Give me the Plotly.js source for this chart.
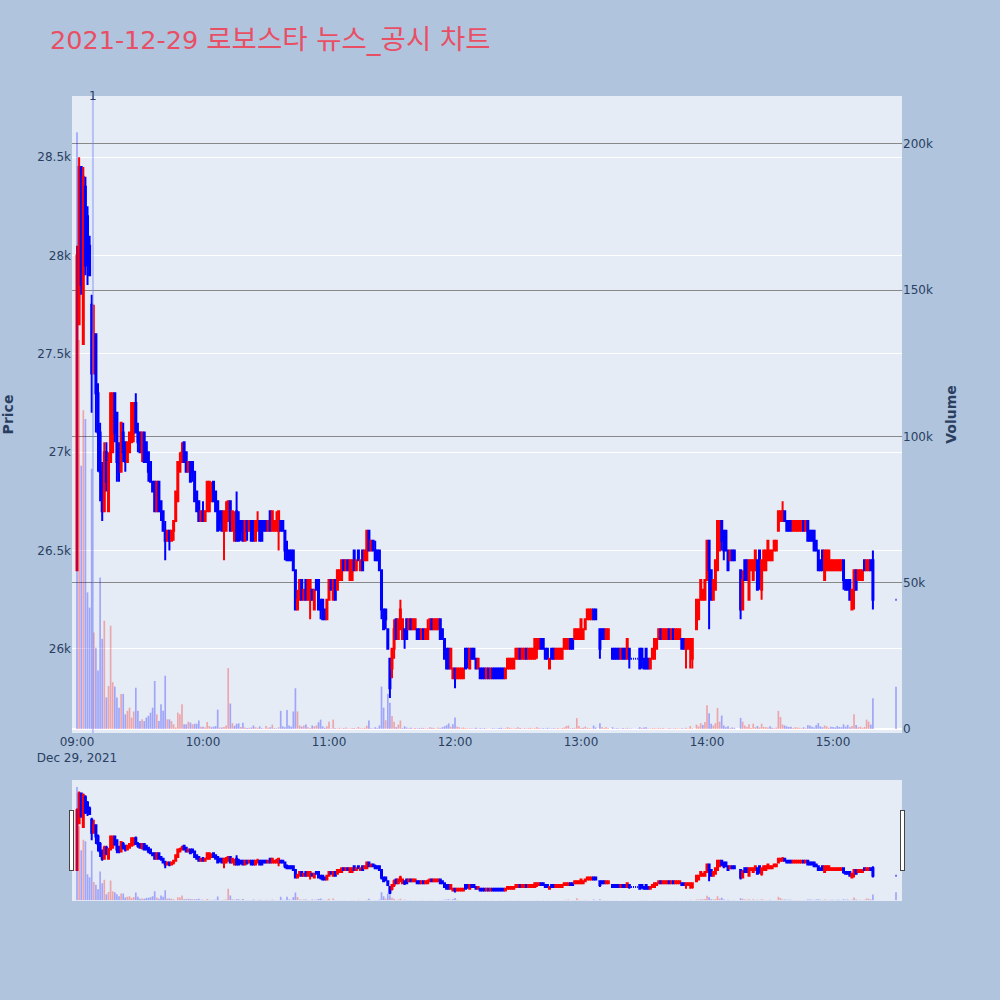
<!DOCTYPE html>
<html>
<head>
<meta charset="utf-8">
<script src="https://cdn.plot.ly/plotly-3.0.1.min.js"></script>
<style>html,body{margin:0;padding:0;background:#B0C4DE;}</style>
</head>
<body>
<div id="chart" style="width:1000px;height:1000px;"></div>
<script>
// ---- data (one entry per minute from 09:00; null = no trade) ----
const tradeDate = '2021-12-29';
const titleDate = '2021-12-29';
const titleName = '로보스타 뉴스_공시 차트';
const newsTime = '2021-12-29 09:07:36';
const newsLabel = '1';

const openP = [
26400,27650,28450,27550,28350,28200,28050,27750,27400,27600,
27300,27100,26900,26700,27000,26700,26950,27000,27300,27200,
27000,26900,27100,27050,26950,27000,27050,27100,27250,27100,
27100,27000,27100,27050,27000,26950,26850,26850,26700,26850,
26750,26700,26600,26550,26600,26550,26600,26650,26750,26900,
26950,27050,27000,26900,26950,26950,26900,26800,26750,26650,
26700,26650,26700,26700,26750,26850,26800,26750,26700,26700,
26600,26600,26650,26750,26600,26550,26700,26650,26650,26650,
26550,26650,26600,26650,26650,26550,26600,26650,26650,26650,
26650,26600,26700,26600,26600,26600,26600,26650,26650,26600,
26500,26500,26500,26500,26400,26200,26250,26350,26250,26350,
26250,26250,26300,26200,26350,26350,26250,26250,26200,26150,
26250,26350,26250,26350,26300,26350,26350,26450,26400,26450,
26350,26350,26500,26400,26500,26400,26500,26450,26450,26600,
26500,26550,26500,26500,26500,26400,26200,26200,26100,25950,
25900,26000,26150,26050,26100,26050,26100,26150,26100,26150,
26100,26100,26100,26100,26050,26100,26050,26050,26100,26150,
26100,26100,26100,26150,26100,26050,26000,26000,25900,25850,
25900,25850,25850,25850,25850,26000,26000,25900,26000,26000,
25950,25900,25900,25900,25900,25850,25900,25850,25900,25900,
25900,25900,25900,25900,25850,25900,25900,25900,25900,25950,
25950,26000,25950,25950,26000,25950,25950,25950,25950,26000,
26000,26050,26050,26000,26000,25900,26000,26000,25950,25950,
25950,25950,26000,26000,26000,26050,26050,26050,26050,26050,
26050,26050,26100,26150,26150,26150,26200,26200,null,26100,
26100,26100,26050,26050,null,26000,26000,26000,26000,25950,
26000,26000,25950,26000,25950,25950,25950,25950,26000,26000,
25950,26000,25950,25900,25950,25950,26000,26050,26100,26050,
26050,26050,26100,26050,26100,26050,26050,26050,26050,26050,
26000,26000,26000,25950,null,26100,26150,26250,26250,26250,
26350,26550,26400,26250,26300,26400,26500,26650,26600,26600,
26500,26450,26500,26500,null,null,26400,26200,26450,26450,
26250,26400,26350,26400,26450,26500,26300,26400,26400,26450,
26450,26450,26500,26500,26600,26650,26650,26700,26650,26650,
26650,26600,26600,26600,26600,26600,26650,26600,26650,26600,
26600,26600,26550,26500,26450,26500,26350,26400,26400,26400,
26400,26400,26400,26400,26400,26450,26350,26350,26350,26200,
26300,26400,26350,26350,26350,26450,26400,26400,26450,26450,
null,null,null,null,null,null,null,null,null,null,
26250];

const highP = [
28050,28500,28450,28450,28400,28250,28100,27800,27750,27600,
27350,27150,26950,27050,27050,27000,27300,27300,27300,27200,
27050,27150,27150,27050,27050,27100,27250,27250,27300,27150,
27100,27100,27100,27050,27000,26950,26850,26850,26850,26850,
26750,26700,26650,26600,26600,26600,26650,26800,26950,27000,
27050,27050,27000,26950,26950,26950,26900,26800,26750,26700,
26750,26700,26850,26850,26850,26850,26800,26750,26700,26700,
26700,26750,26750,26750,26700,26700,26800,26700,26650,26650,
26650,26650,26650,26650,26650,26650,26700,26650,26650,26650,
26650,26650,26700,26700,26650,26700,26700,26650,26650,26600,
26550,26500,26500,26500,26400,26300,26350,26350,26300,26350,
26350,26350,26300,26300,26350,26350,26250,26250,26200,26250,
26350,26350,26350,26350,26400,26400,26450,26450,26450,26450,
26450,26450,26500,26450,26500,26450,26500,26500,26600,26600,
26550,26550,26550,26500,26500,26400,26200,26200,26100,25950,
26000,26150,26150,26150,26250,26150,26100,26150,26150,26150,
26150,26150,26100,26100,26100,26100,26100,26150,26150,26150,
26150,26150,26150,26150,26100,26050,26000,26000,26000,25900,
25900,25900,25900,25900,25900,26000,26000,26000,26000,26000,
25950,25950,25900,25900,25900,25900,25900,25900,25900,25900,
25900,25900,25900,25900,25900,25950,25950,25950,25950,26000,
26000,26000,26000,26000,26000,26000,26000,26000,26050,26050,
26050,26050,26050,26000,26000,25950,26000,26000,26000,26000,
26000,26000,26050,26050,26050,26050,26050,26100,26100,26100,
26150,26100,26150,26200,26200,26200,26200,26200,null,26100,
26100,26100,26100,26100,null,26000,26000,26000,26000,26000,
26000,26000,26050,26000,25950,25950,25950,25950,26000,26000,
25950,26000,25950,25950,26000,26050,26050,26100,26100,26100,
26100,26100,26100,26100,26100,26100,26100,26100,26050,26050,
26050,26050,26050,26050,null,26250,26250,26350,26300,26350,
26550,26550,26400,26350,26450,26650,26650,26650,26600,26600,
26500,26500,26500,26500,null,null,26400,26400,26450,26450,
26450,26450,26450,26500,26450,26500,26450,26500,26500,26550,
26500,26500,26550,26550,26700,26700,26750,26700,26650,26650,
26650,26650,26650,26650,26650,26650,26650,26650,26650,26600,
26600,26600,26550,26500,26450,26500,26500,26500,26500,26450,
26450,26450,26450,26450,26450,26450,26350,26350,26350,26300,
26400,26400,26400,26400,26400,26450,26450,26450,26450,26500,
null,null,null,null,null,null,null,null,null,null,
26250];

const lowP = [
26400,27650,27800,27550,27900,27850,27900,27200,27400,27100,
26900,26750,26650,26700,26800,26700,26950,27000,27050,26850,
26850,26900,26950,26900,26950,27000,27050,27050,27100,27000,
27000,26950,26950,26950,26850,26850,26800,26700,26700,26700,
26650,26600,26450,26550,26500,26550,26550,26650,26750,26900,
26950,26950,26900,26900,26850,26850,26750,26700,26650,26650,
26650,26650,26700,26700,26750,26750,26700,26600,26600,26600,
26450,26600,26650,26600,26600,26550,26550,26550,26550,26550,
26550,26550,26600,26550,26550,26550,26600,26550,26550,26600,
26600,26600,26600,26600,26600,26600,26500,26600,26600,26450,
26450,26450,26450,26400,26200,26200,26250,26250,26250,26250,
26250,26150,26250,26200,26300,26200,26150,26150,26150,26150,
26250,26300,26250,26250,26300,26350,26350,26400,26400,26400,
26350,26350,26400,26400,26450,26400,26400,26450,26450,26500,
26500,26500,26450,26450,26400,26150,26100,26100,26000,25750,
25850,25950,26050,26050,26100,26050,26000,26050,26100,26100,
26100,26100,26050,26050,26050,26050,26050,26050,26100,26100,
26100,26100,26100,26050,26050,25950,25900,25900,25900,25850,
25800,25850,25850,25850,25850,25900,25900,25900,25950,25950,
25900,25900,25850,25850,25850,25850,25850,25850,25850,25850,
25850,25850,25850,25850,25850,25900,25900,25900,25900,25950,
25950,25950,25950,25950,25950,25950,25950,25950,25950,25950,
26000,26000,26000,25950,25950,25900,25950,25950,25950,25950,
25950,25950,26000,26000,26000,26000,26000,26050,26050,26050,
26050,26050,26100,26150,26150,26150,26150,26150,null,25950,
26050,26050,26050,26050,null,25950,25950,25950,25950,25950,
25950,25950,25950,25900,25950,25950,25950,25950,25900,25900,
25900,25900,25900,25900,25950,25950,26000,26050,26050,26050,
26050,26050,26050,26050,26050,26050,26050,26050,26000,26000,
25900,26000,25900,25900,null,26100,26150,26250,26250,26250,
26350,26100,26250,26250,26300,26400,26500,26500,26450,26500,
26400,26450,26450,26450,null,null,26150,26200,26350,26350,
26250,26400,26350,26400,26300,26300,26250,26400,26400,26450,
26450,26450,26500,26500,26600,26650,26650,26650,26600,26600,
26600,26600,26600,26600,26600,26600,26600,26600,26550,26550,
26550,26500,26500,26400,26400,26400,26350,26400,26400,26400,
26400,26400,26400,26400,26400,26300,26300,26300,26250,26200,
26200,26300,26350,26350,26350,26400,26400,26400,26400,26200,
null,null,null,null,null,null,null,null,null,null,
26250];

const closeP = [
28000,28450,27850,28400,27950,27950,27900,27400,27600,27300,
27100,26900,26700,27000,26850,26950,27300,27300,27100,26950,
26900,27150,27000,26950,27050,27100,27250,27250,27100,27050,
27000,27100,26950,26950,26900,26850,26800,26700,26850,26700,
26700,26600,26550,26600,26550,26600,26650,26800,26950,26950,
27000,26950,26900,26950,26850,26900,26750,26700,26650,26700,
26650,26700,26850,26850,26800,26750,26700,26600,26650,26600,
26700,26700,26750,26600,26700,26650,26550,26550,26600,26550,
26650,26600,26650,26550,26550,26650,26650,26550,26550,26600,
26600,26650,26600,26700,26650,26650,26700,26600,26600,26500,
26450,26450,26450,26400,26200,26250,26350,26250,26300,26250,
26350,26350,26250,26300,26300,26200,26200,26150,26150,26250,
26350,26300,26350,26250,26400,26400,26450,26400,26450,26400,
26450,26450,26400,26450,26450,26450,26400,26500,26600,26500,
26550,26500,26450,26450,26400,26200,26100,26150,26000,25800,
26000,26100,26050,26150,26200,26150,26050,26050,26150,26100,
26150,26150,26050,26050,26100,26050,26100,26100,26150,26100,
26150,26150,26150,26050,26050,25950,25900,25900,26000,25900,
25850,25900,25900,25900,25900,25900,25950,26000,25950,25950,
25900,25950,25850,25850,25850,25900,25850,25900,25850,25850,
25850,25850,25850,25850,25900,25950,25950,25950,25950,26000,
26000,25950,26000,26000,25950,26000,26000,26000,26050,26050,
26050,26000,26000,25950,25950,25950,25950,25950,26000,26000,
26000,26000,26050,26050,26050,26000,26000,26100,26100,26100,
26150,26100,26150,26200,26200,26200,26150,26150,null,26000,
26050,26050,26100,26100,null,25950,25950,25950,25950,26000,
25950,25950,26050,25950,25950,25950,25950,25950,25900,25950,
25900,25900,25900,25950,26000,26050,26050,26100,26050,26100,
26100,26100,26050,26100,26050,26100,26100,26100,26000,26000,
26050,26050,26050,26050,null,26250,26250,26350,26300,26350,
26550,26400,26250,26350,26450,26650,26650,26550,26500,26500,
26400,26500,26450,26450,null,null,26200,26350,26350,26350,
26450,26450,26450,26500,26300,26350,26450,26500,26500,26550,
26500,26500,26550,26550,26700,26700,26700,26650,26600,26600,
26600,26650,26650,26650,26650,26650,26600,26650,26550,26550,
26550,26500,26500,26400,26400,26400,26500,26500,26500,26450,
26450,26450,26450,26450,26450,26350,26300,26300,26250,26300,
26400,26300,26400,26400,26400,26400,26450,26450,26400,26250,
null,null,null,null,null,null,null,null,null,null,
26250];

const volume = [
204000,133000,90000,109000,106000,46700,41500,89000,33000,27800,
20000,51800,30800,37000,10800,14700,35300,16000,14500,10800,
7300,12000,12000,5000,6200,7300,3900,6000,14100,6200,
2700,3300,2700,3900,4500,5600,7300,16400,5000,2700,
8500,6200,18200,3300,3300,2700,1600,500,5600,5000,
8500,1600,1600,2500,2200,1600,1800,1800,2900,800,
800,500,2400,1000,600,800,1000,6600,500,500,
700,1200,20800,8700,2000,1100,1800,1900,700,2100,
500,300,400,500,1200,600,400,900,300,200,
1000,400,600,1500,300,200,600,6200,900,600,
6500,1200,800,6000,13900,6000,1200,800,1200,1500,
600,300,1200,900,1200,2300,3200,900,400,900,
2500,200,3200,300,200,400,200,300,500,200,
200,300,300,200,700,300,200,400,1100,2900,
300,200,600,300,1200,14500,7300,3000,12000,9000,
4400,2500,600,1500,2900,300,900,500,300,400,
200,300,200,300,400,300,200,300,600,400,
300,200,500,300,600,900,1300,1900,800,1600,
3900,800,600,300,500,300,200,300,200,200,
400,200,300,200,300,200,100,200,300,200,
200,300,400,200,300,600,400,300,200,300,
600,300,200,300,200,300,400,200,300,600,
300,200,300,200,400,200,200,300,200,300,
200,300,500,1000,1200,200,300,400,3700,1000,
300,400,800,400,300,200,1200,500,null,2000,
600,300,600,300,null,600,200,300,200,200,
300,200,400,200,200,100,100,200,600,300,
500,600,200,200,300,300,200,400,200,300,
200,200,300,200,200,300,200,200,300,200,
400,200,1000,300,null,1500,900,2000,1400,2400,
8100,5400,1800,1200,2000,7200,2500,4600,1200,600,
900,300,500,400,null,null,3800,2500,1200,700,
1600,300,1800,600,1000,500,1800,700,600,500,
900,400,300,500,6200,4100,1500,1200,900,700,
800,300,600,500,400,300,600,300,1300,1200,
800,500,1300,2000,900,600,1200,900,400,800,
700,500,1000,700,600,1600,800,1400,600,1000,
5000,1400,600,800,400,700,3200,2500,1500,10500,
null,null,null,null,null,null,null,null,null,null,
14400];

// ---- minute timestamps for each row ----
const times = openP.map((_, i) => {
  const m = 9 * 60 + i;
  const hh = String(Math.floor(m / 60)).padStart(2, '0');
  const mm = String(m % 60).padStart(2, '0');
  return tradeDate + ' ' + hh + ':' + mm + ':00';
});

// volume colour: close compared with the previous close (unchanged keeps previous colour)
const UP = 'rgba(255,0,0,0.3)', DOWN = 'rgba(0,0,255,0.3)';
let prevClose = null, prevUp = false;
const volColors = closeP.map((c) => {
  if (c === null) return DOWN;
  let up = prevUp;
  if (prevClose !== null && c !== prevClose) up = c > prevClose;
  prevClose = c; prevUp = up;
  return up ? UP : DOWN;
});

const xRange = ['2021-12-29 08:57:37', '2021-12-29 15:32:51'];

const traces = [
  {
    type: 'bar', x: times, y: volume, yaxis: 'y2', name: 'Volume',
    marker: {color: volColors, line: {width: 0}}, hoverinfo: 'x+y'
  },
  {
    type: 'candlestick', x: times, open: openP, high: highP, low: lowP, close: closeP,
    yaxis: 'y', name: 'Price',
    increasing: {line: {color: 'red', width: 2}, fillcolor: 'red'},
    decreasing: {line: {color: 'blue', width: 2}, fillcolor: 'blue'}
  }
];

const layout = {
  width: 1000, height: 1000,
  paper_bgcolor: '#B0C4DE',
  plot_bgcolor: '#E5ECF6',
  font: {family: '"DejaVu Sans", verdana, "Noto Sans CJK KR", sans-serif', color: '#2a3f5f', size: 12},
  title: {
    text: titleDate + ' <span style="font-size:27.5px">' + titleName + '</span>',
    font: {size: 25.5, color: '#E94F64'},
    x: 0.05, xanchor: 'left', y: 0.96, yanchor: 'middle'
  },
  margin: {l: 72, r: 98, t: 96, b: 100},
  showlegend: false,
  xaxis: {
    type: 'date', range: xRange, showgrid: false, zeroline: false,
    dtick: 3600000, ticks: '',
    rangeslider: {visible: true, range: xRange, bgcolor: '#E5ECF6', thickness: 0.15}
  },
  yaxis: {
    title: {text: 'Price', font: {size: 14, weight: 'bold'}, standoff: 22},
    range: [25572, 28811], gridcolor: 'white', showgrid: true, zeroline: false, ticks: ''
  },
  yaxis2: {
    title: {text: 'Volume', font: {size: 14, weight: 'bold'}, standoff: 14},
    overlaying: 'y', side: 'right', range: [-1370, 216400],
    gridcolor: '#888888', showgrid: true, zeroline: true, zerolinecolor: 'white', zerolinewidth: 2, ticks: ''
  },
  shapes: [{
    type: 'line', xref: 'x', yref: 'paper', x0: newsTime, x1: newsTime, y0: 0, y1: 1,
    line: {color: 'rgba(110,130,250,0.4)', width: 2}
  }],
  annotations: [{
    x: newsTime, y: 1, xref: 'x', yref: 'paper', text: newsLabel,
    showarrow: false, yanchor: 'middle', font: {size: 12, color: '#2a3f5f'}
  }]
};

Plotly.newPlot('chart', traces, layout, {displayModeBar: false});
</script>
</body>
</html>
